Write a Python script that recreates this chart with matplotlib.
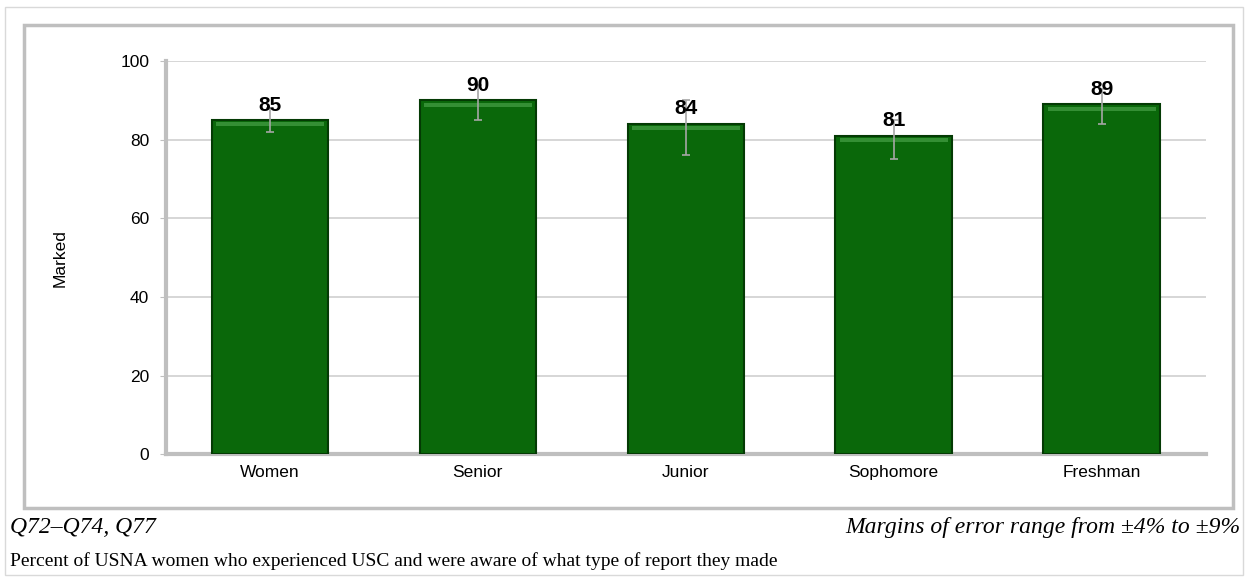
import matplotlib.pyplot as plt
from matplotlib.patches import Rectangle

# Chart data
categories = ["Women", "Senior", "Junior", "Sophomore", "Freshman"]
values = [85, 90, 84, 81, 89]
err_low = [3, 5, 8, 6, 5]
err_high = [3, 4, 6, 4, 4]
yticks = [0, 20, 40, 60, 80, 100]

plt.rcParams["font.family"] = ["Liberation Sans", "DejaVu Sans"]

fig = plt.figure(figsize=(12.48, 5.77), dpi=100)
ax = fig.add_axes([0.133, 0.213, 0.833, 0.681])

# Frames around the chart
fig.patches.append(Rectangle((0.004, 0.003), 0.992, 0.985, transform=fig.transFigure,
                             fill=False, edgecolor="#d9d9d9", linewidth=1))
fig.patches.append(Rectangle((0.019, 0.12), 0.969, 0.837, transform=fig.transFigure,
                             fill=False, edgecolor="#bfbfbf", linewidth=2.5))

x = range(len(categories))
bars = ax.bar(x, values, width=0.56, color="#0a680a", edgecolor="#043a04",
              linewidth=1.5, zorder=3)

# lighter band near the top of each bar (bevel look)
ax.bar(x, [1.0] * len(values), bottom=[v - 1.6 for v in values], width=0.52,
       color="#3c963c", linewidth=0, zorder=4, alpha=0.85)

ax.errorbar(x, values, yerr=[err_low, err_high], fmt="none", ecolor="#a6a6a6",
            elinewidth=1.2, capsize=3, capthick=1.2, zorder=5)

for xi, v in zip(x, values):
    ax.annotate(str(v), (xi, v), xytext=(0, 4), textcoords="offset points",
                ha="center", va="bottom", fontsize=15, fontweight="bold", zorder=6)

ax.set_xlim(-0.5, 4.5)
ax.set_ylim(0, 100)
ax.set_yticks(yticks)
ax.set_xticks(list(x))
ax.set_xticklabels(categories, fontsize=12.5)
ax.tick_params(axis="y", labelsize=12.5, length=4, color="#bfbfbf", pad=8)
ax.tick_params(axis="x", length=0, pad=8)
ax.set_ylabel("Marked", fontsize=12.5, labelpad=38)

ax.grid(axis="y", color="#d0d0d0", linewidth=1.2, zorder=0)
for s in ["top", "right"]:
    ax.spines[s].set_visible(False)
for s in ["left", "bottom"]:
    ax.spines[s].set_color("#bfbfbf")
    ax.spines[s].set_linewidth(3)

# Footer
fig.text(0.008, 0.085, "Q72\u2013Q74, Q77", fontsize=17, style="italic",
         family="Liberation Serif", va="center")
fig.text(0.994, 0.085, "Margins of error range from \u00b14% to \u00b19%", fontsize=17,
         style="italic", family="Liberation Serif", va="center", ha="right")
fig.text(0.008, 0.028, "Percent of USNA women who experienced USC and were aware of what type of report they made",
         fontsize=14, family="Liberation Serif", va="center")

fig.savefig("out.png", dpi=100)
